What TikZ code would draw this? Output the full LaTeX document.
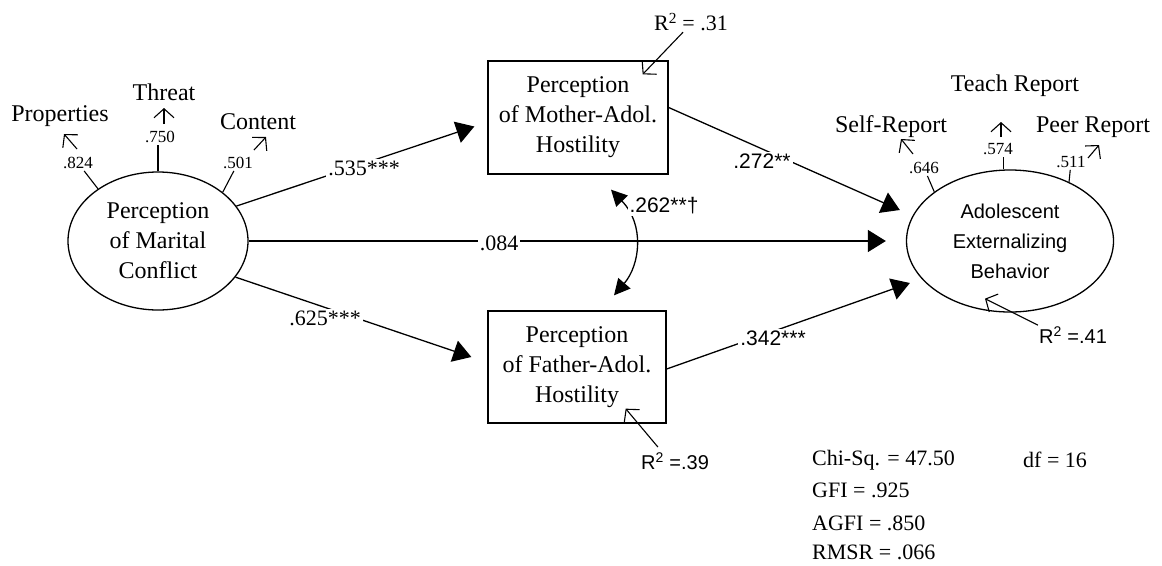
\documentclass[tikz,border=0pt]{standalone}
\usepackage{fontspec}
\setmainfont{Liberation Serif}
\setsansfont{Liberation Sans}
\usetikzlibrary{shapes.geometric,arrows.meta,calc}
\begin{document}
\begin{tikzpicture}[x=1pt,y=-1pt,
  lw/.style={line width=1.3pt},
  var/.style={draw, lw, align=center, inner sep=0pt, font=\fontsize{24}{30}\selectfont},
  ind/.style={inner sep=1pt, font=\fontsize{24}{28}\selectfont},
  load/.style={inner sep=2pt, font=\fontsize{17}{20}\selectfont},
  coef/.style={fill=white, inner sep=2pt, font=\fontsize{22}{26}\selectfont},
  scoef/.style={fill=white, inner sep=2pt, font=\sffamily\fontsize{21}{26}\selectfont},
  big/.style={lw, -{Triangle[length=18pt,width=22pt]}},
  small/.style={line width=1.1pt, -{Straight Barb[length=9pt,width=20pt]}},
  cor/.style={lw, {Triangle[length=16pt,width=16pt]}-{Triangle[length=16pt,width=16pt]}},
  fitt/.style={anchor=west, inner sep=0pt, font=\fontsize{22}{26}\selectfont}
]
\useasboundingbox (0,0) rectangle (1162,565);

% main variables
\node[var, ellipse, minimum width=180pt, minimum height=138pt] (mc) at (158,241) {Perception\\of Marital\\Conflict};
\node[var, rectangle, minimum width=180pt, minimum height=113pt] (mother) at (578,117.5) {Perception\\of Mother-Adol.\\Hostility};
\node[var, rectangle, minimum width=178pt, minimum height=112pt] (father) at (577,367) {Perception\\of Father-Adol.\\Hostility};
\node[var, ellipse, minimum width=207pt, minimum height=142pt, font=\sffamily\fontsize{20}{30}\selectfont] (out) at (1010,241) {Adolescent\\Externalizing\\Behavior};

% indicators
\node[ind] (prop) at (60,116) {Properties};
\node[ind] (threat) at (164,92) {Threat};
\node[ind] (content) at (258,122) {Content};
\node[ind] (self) at (891,127) {Self-Report};
\node[ind] (teach) at (1015,86) {Teach Report};
\node[ind] (peer) at (1093,127) {Peer Report};

% loadings
\node[load] (c824) at (78,163) {.824};
\node[load] (c750) at (160,137) {.750};
\node[load] (c501) at (238,163) {.501};
\node[load] (c646) at (924,168) {.646};
\node[load] (c574) at (998,149) {.574};
\node[load] (c511) at (1071,162) {.511};

\draw[line width=1.1pt] (mc.139) -- (c824);
\draw[line width=1.1pt] (mc.north) -- (mc.north |- c750.south);
\draw[line width=1.1pt] (mc.37) -- (c501);
\draw[line width=1.1pt] (out.147) -- (c646);
\draw[line width=1.1pt] (out.95) -- (out.95 |- c574.south);
\draw[line width=1.1pt] (out.45) -- (c511);

% small arrows towards indicators
\coordinate (a1s) at (77,149); \coordinate (a1e) at (64,134);
\coordinate (a2s) at (164,124); \coordinate (a2e) at (164,108);
\coordinate (a3s) at (254,150); \coordinate (a3e) at (266,137);
\coordinate (a4s) at (913,154); \coordinate (a4e) at (901,139);
\coordinate (a5s) at (1001,137); \coordinate (a5e) at (1001,122);
\coordinate (a6s) at (1088,158); \coordinate (a6e) at (1099,145);
\draw[small] (a1s) -- (a1e);
\draw[small] (a2s) -- (a2e);
\draw[small] (a3s) -- (a3e);
\draw[small] (a4s) -- (a4e);
\draw[small] (a5s) -- (a5e);
\draw[small] (a6s) -- (a6e);

% structural paths
\draw[big] (mc.24) -- ([shift={(-13,9)}]mother.west);
\draw[big] (mc.-25) -- ([shift={(-16,-10)}]father.west);
\draw[big] (mc.east) -- ([xshift=-20]out.west);
\draw[big] ([yshift=10]mother.east) -- ([shift={(-6,-31)}]out.west);
\draw[big] ([yshift=-2]father.east) -- ([shift={(4,42)}]out.west);

% correlation
\coordinate (ca) at ([shift={(33,15)}]mother.south);
\coordinate (cb) at ([shift={(37,-15)}]father.north);
\draw[cor] (ca) .. controls (645,225) and (640,265) .. (cb);

% path labels
\node[coef] (l535) at (364,168) {.535***};
\node[coef] (l625) at (325,318) {.625***};
\node[coef] (l084) at (499,243) {.084};
\node[scoef] (l272) at (762,161) {.272**};
\node[scoef] (l342) at (773,338) {.342***};
\node[scoef] (l262) at (664,206) {.262**†};

% R squared
\node[inner sep=1pt, font=\fontsize{22}{26}\selectfont] (r31) at (691,22) {R\textsuperscript{2} = .31};
\node[inner sep=1pt, font=\sffamily\fontsize{20}{24}\selectfont] (r41) at (1073,335) {R\textsuperscript{2} =.41};
\node[inner sep=1pt, font=\sffamily\fontsize{20}{24}\selectfont] (r39) at (675,461) {R\textsuperscript{2} =.39};
\coordinate (t31) at ([shift={(-26,14)}]mother.north east);
\coordinate (t41) at ([shift={(-25,-14)}]out.south);
\coordinate (t39) at ([shift={(-41,-15)}]father.south east);
\draw[small] ([xshift=-8]r31.south) -- (t31);
\draw[small] (r41.north west) -- (t41);
\draw[small] ([shift={(18,-4)}]r39.north west) -- (t39);

% fit statistics
\node[fitt] (chi) at (812,460) {Chi-Sq. = 47.50};
\node[fitt] (df) at (1023,460) {df = 16};
\node[fitt] (gfi) at (812,490) {GFI = .925};
\node[fitt] (agfi) at (812,523) {AGFI = .850};
\node[fitt] (rmsr) at (812,552) {RMSR = .066};
\end{tikzpicture}
\end{document}
